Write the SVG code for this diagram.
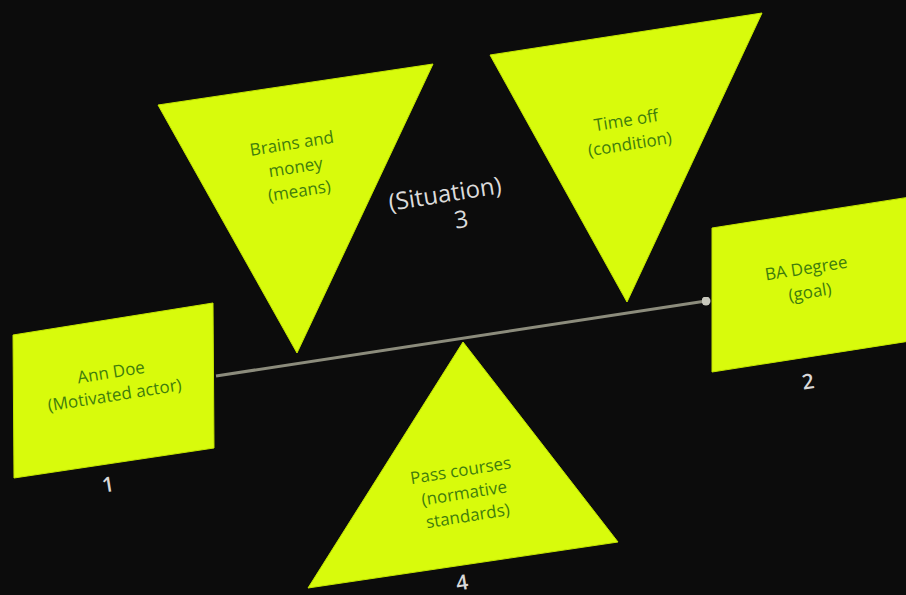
<svg xmlns="http://www.w3.org/2000/svg" width="906" height="595" viewBox="0 0 906 595">
<style>
.shape{fill:#d8fb0c;stroke:#c4e600;stroke-width:1}
.lbl{font-family:"Open Sans","Noto Sans",sans-serif;font-size:17px;font-weight:500;fill:#3f7d0c;text-anchor:middle}
.num{font-family:"Open Sans","Noto Sans",sans-serif;font-size:21px;font-weight:600;fill:#d8d8d8;text-anchor:middle}
.sit{font-family:"Open Sans","Noto Sans",sans-serif;font-size:24px;fill:#dcdcdc;text-anchor:middle}
.conn{stroke:#8c8c7c;stroke-width:3;fill:none}
</style>
<defs>
<marker id="dot" viewBox="0 0 6 6" refX="3" refY="3" markerWidth="3" markerHeight="3" markerUnits="strokeWidth"><circle cx="3" cy="3" r="3" fill="#c8c8bc"/></marker>
</defs>
<rect width="906" height="595" fill="#0c0c0c"/>
<g id="connectors">
<line class="conn" x1="216" y1="376" x2="706" y2="301" marker-end="url(#dot)"/>
</g>
<g id="actor">
<polygon class="shape" points="13,335 213,303 214,448 14,478"/>
<g transform="rotate(-9 113 385)">
<text class="lbl" x="113" y="378">Ann Doe</text>
<text class="lbl" x="113" y="401">(Motivated actor)</text>
</g>
<text class="num" x="108" y="492" transform="rotate(-9 108 485)">1</text>
</g>
<g id="goal">
<polygon class="shape" points="712,228 910,197 910,341 712,372"/>
<g transform="rotate(-9 808 280)">
<text class="lbl" x="808" y="274">BA Degree</text>
<text class="lbl" x="808" y="298">(goal)</text>
</g>
<text class="num" x="808" y="389" transform="rotate(-9 808 382)">2</text>
</g>
<g id="means">
<polygon class="shape" points="158,105 433,64 297,353"/>
<g transform="rotate(-9 296 170)">
<text class="lbl" x="296" y="149">Brains and</text>
<text class="lbl" x="296" y="173">money</text>
<text class="lbl" x="296" y="197">(means)</text>
</g>
</g>
<g id="situation">
<g transform="rotate(-9 446 200)">
<text class="sit" x="446" y="202">(Situation)</text>
<text class="sit" x="458" y="230">3</text>
</g>
</g>
<g id="condition">
<polygon class="shape" points="490,55 762,13 627,302"/>
<g transform="rotate(-9 628 132)">
<text class="lbl" x="628" y="126">Time off</text>
<text class="lbl" x="628" y="150">(condition)</text>
</g>
</g>
<g id="standards">
<polygon class="shape" points="463,342 618,542 308,588"/>
<g transform="rotate(-9 464 492)">
<text class="lbl" x="464" y="476">Pass courses</text>
<text class="lbl" x="464" y="499">(normative</text>
<text class="lbl" x="464" y="522">standards)</text>
</g>
<text class="num" x="462" y="590" transform="rotate(-9 462 583)">4</text>
</g>
</svg>
